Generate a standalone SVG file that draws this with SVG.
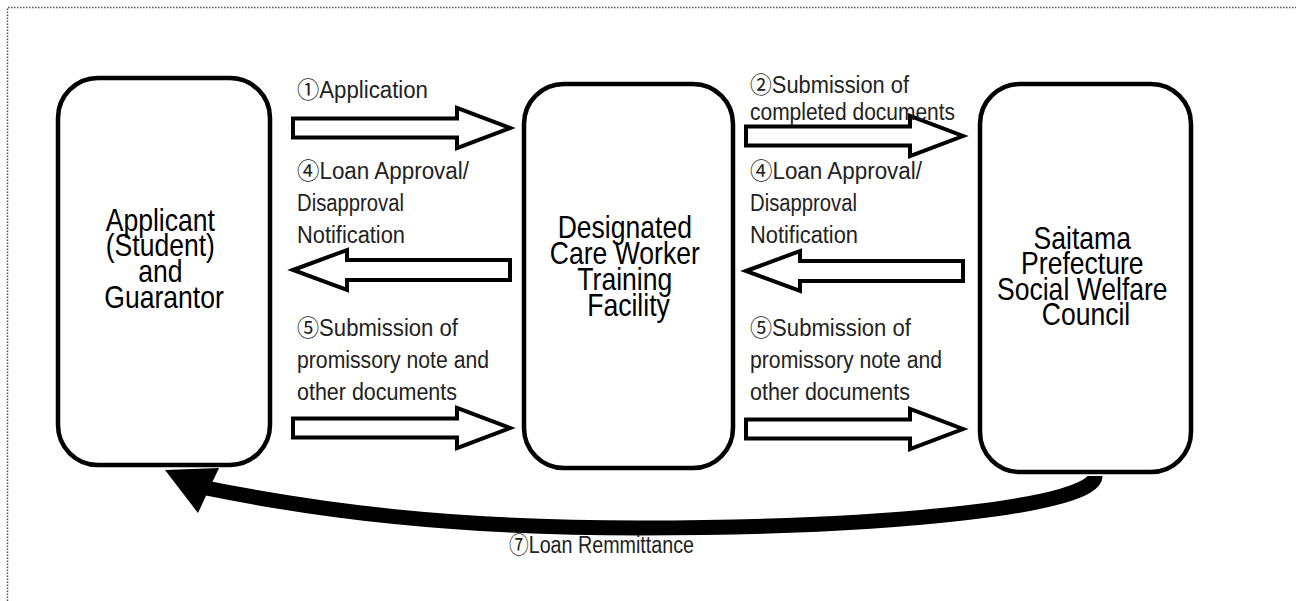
<svg xmlns="http://www.w3.org/2000/svg" width="1296" height="601" viewBox="0 0 1296 601">
  <style>
    .node { fill: #fff; stroke: #000; stroke-width: 4.5; }
    .ntext { font-family: "Liberation Sans", "Noto Sans CJK JP", sans-serif; font-size: 32px; fill: #000; text-anchor: middle; }
    .label { font-family: "Liberation Sans", "Noto Sans CJK JP", sans-serif; font-size: 23px; fill: #222; }
    .blk { fill: #fff; stroke: #000; stroke-width: 4; stroke-linejoin: miter; }
  </style>
  <defs>
    <path id="rarrow" d="M0,-9.5 H164 V-20 L217,0 L164,20 V9.5 H0 Z"/>
    <path id="larrow" d="M0,0 L54,-20 V-10 H217 V10 H54 V20 Z"/>
  </defs>
  <rect width="1296" height="601" fill="#fff"/>
  <path d="M7.5,601 V7.5 H1296" fill="none" stroke="#555" stroke-width="1.5" stroke-dasharray="1.5 1.5"/>

  <g id="node-applicant">
    <rect class="node" x="58" y="78" width="212" height="387" rx="40" ry="40"/>
    <text class="ntext" transform="translate(164,0) scale(0.83,1)">
      <tspan x="0" y="231">Applicant</tspan>
      <tspan x="0" y="256">(Student)</tspan>
      <tspan x="0" y="282">and</tspan>
      <tspan x="0" y="308">Guarantor</tspan>
    </text>
  </g>

  <g id="node-facility">
    <rect class="node" x="524" y="84" width="209" height="384" rx="40" ry="40"/>
    <text class="ntext" transform="translate(628.5,0) scale(0.83,1)">
      <tspan x="0" y="238">Designated</tspan>
      <tspan x="0" y="264">Care Worker</tspan>
      <tspan x="0" y="290">Training</tspan>
      <tspan x="0" y="316">Facility</tspan>
    </text>
  </g>

  <g id="node-council">
    <rect class="node" x="980" y="84" width="211" height="388" rx="40" ry="40"/>
    <text class="ntext" transform="translate(1086,0) scale(0.83,1)">
      <tspan x="0" y="249">Saitama</tspan>
      <tspan x="0" y="274">Prefecture</tspan>
      <tspan x="0" y="300">Social Welfare</tspan>
      <tspan x="0" y="325">Council</tspan>
    </text>
  </g>

  <g id="connectors">
    <use href="#rarrow" class="blk" x="293" y="128"/>
    <use href="#larrow" class="blk" x="293" y="270"/>
    <use href="#rarrow" class="blk" x="293" y="428"/>
    <use href="#rarrow" class="blk" x="746" y="136"/>
    <use href="#larrow" class="blk" x="746" y="271"/>
    <use href="#rarrow" class="blk" x="746" y="429"/>
    <path d="M1095,476 C1095,505 900,528 640,528 C450,528 320,511 206,488" fill="none" stroke="#000" stroke-width="15"/>
    <polygon points="165,470 219,468 198,513" fill="#000"/>
  </g>

  <g id="labels">
    <text class="label" x="297" y="98" textLength="131" lengthAdjust="spacingAndGlyphs">①Application</text>
    <text class="label" x="297" y="179" textLength="172" lengthAdjust="spacingAndGlyphs">④Loan Approval/</text>
    <text class="label" x="297" y="211" textLength="107" lengthAdjust="spacingAndGlyphs">Disapproval</text>
    <text class="label" x="297" y="243" textLength="108" lengthAdjust="spacingAndGlyphs">Notification</text>
    <text class="label" x="297" y="336" textLength="161" lengthAdjust="spacingAndGlyphs">⑤Submission of</text>
    <text class="label" x="297" y="368" textLength="192" lengthAdjust="spacingAndGlyphs">promissory note and</text>
    <text class="label" x="297" y="400" textLength="160" lengthAdjust="spacingAndGlyphs">other documents</text>

    <text class="label" x="750" y="93" textLength="159" lengthAdjust="spacingAndGlyphs">②Submission of</text>
    <text class="label" x="750" y="120" textLength="205" lengthAdjust="spacingAndGlyphs">completed documents</text>
    <text class="label" x="750" y="179" textLength="172" lengthAdjust="spacingAndGlyphs">④Loan Approval/</text>
    <text class="label" x="750" y="211" textLength="107" lengthAdjust="spacingAndGlyphs">Disapproval</text>
    <text class="label" x="750" y="243" textLength="108" lengthAdjust="spacingAndGlyphs">Notification</text>
    <text class="label" x="750" y="336" textLength="161" lengthAdjust="spacingAndGlyphs">⑤Submission of</text>
    <text class="label" x="750" y="368" textLength="192" lengthAdjust="spacingAndGlyphs">promissory note and</text>
    <text class="label" x="750" y="400" textLength="160" lengthAdjust="spacingAndGlyphs">other documents</text>

    <text class="label" x="509" y="553" textLength="185" lengthAdjust="spacingAndGlyphs">⑦Loan Remmittance</text>
  </g>
</svg>
